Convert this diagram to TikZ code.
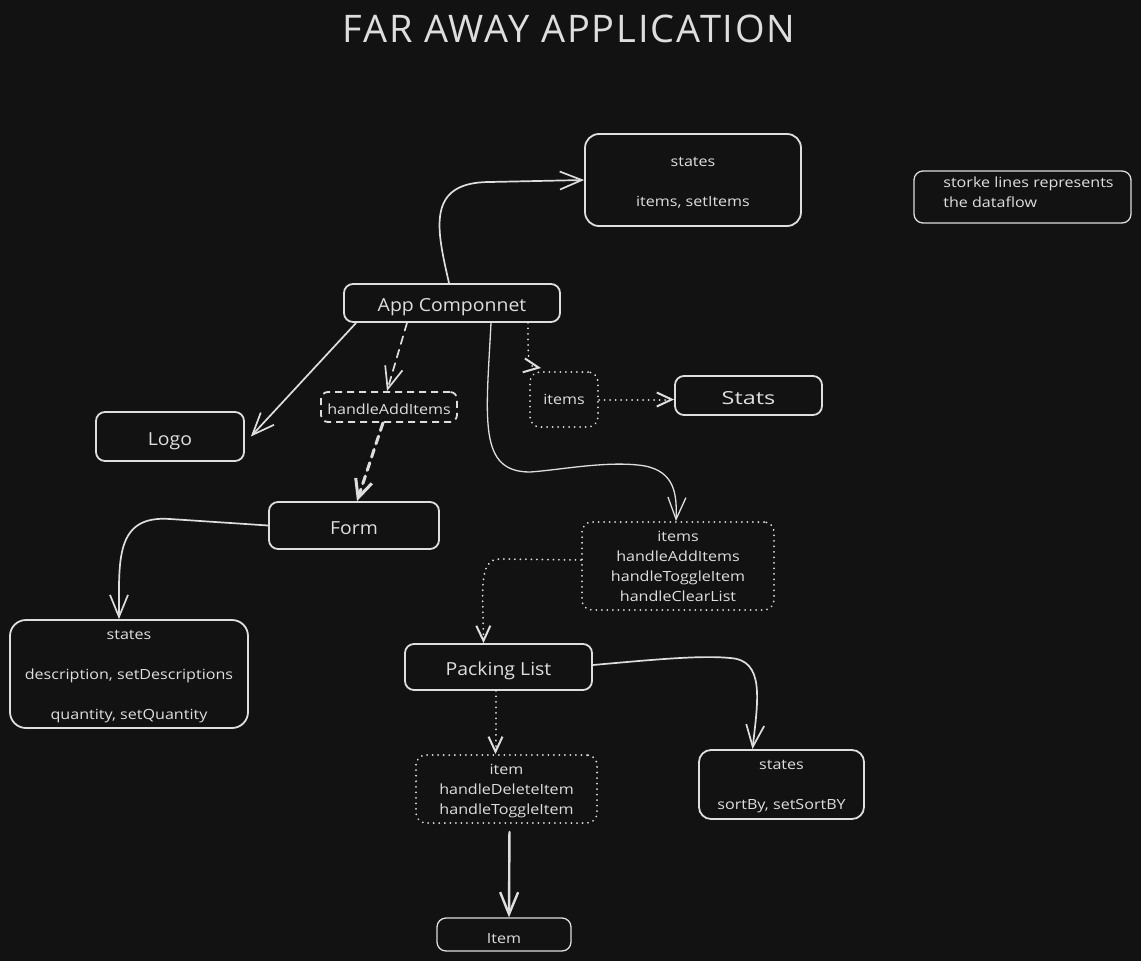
\documentclass[tikz,border=0pt]{standalone}
\usepackage{fontspec}
\setmainfont{Open Sans}
\usetikzlibrary{arrows.meta}
\definecolor{bgc}{HTML}{121212}
\definecolor{ink}{HTML}{DEDEDE}
\newcommand{\tstrut}[1]{\rule{0pt}{#1pt}}
\tikzset{
  box/.style={draw=ink, line width=1.8pt, rounded corners=9pt, fill=bgc, text=ink, inner sep=0pt, align=center, font=\fontsize{14}{20}\selectfont\addfontfeatures{FakeStretch=1.15}},
  bigtxt/.style={font=\fontsize{18}{20}\selectfont\addfontfeatures{FakeStretch=1.08}, text height=17pt, text depth=0pt},
  dashbox/.style={box, dash pattern=on 7pt off 5pt, rounded corners=7pt},
  dotbox/.style={box, line cap=round, dash pattern=on 0.01pt off 5.5pt, line width=2pt, rounded corners=10pt},
  arr/.style={draw=ink, line width=1.7pt, line cap=round, -{Straight Barb[length=22pt,width=18pt]}},
  dotarr/.style={arr, dash pattern=on 0.01pt off 5.5pt, line width=2pt, -{Straight Barb[length=15pt,width=14pt]}},
  dasharr/.style={arr, dash pattern=on 8pt off 6pt},
}
\begin{document}
\begin{tikzpicture}[x=1pt,y=-1pt]
\fill[bgc] (0,0) rectangle (1141,961);
\useasboundingbox (0,0) rectangle (1141,961);

\node[text=ink, font=\fontsize{38}{40}\selectfont\addfontfeatures{LetterSpace=5}] (title) at (569,29) {FAR AWAY APPLICATION};

\node[box, minimum width=216, minimum height=92, rounded corners=14pt] (st1) at (693,180) {\tstrut{14.5}states\\[20pt]items, setItems};
\node[box, minimum width=217, minimum height=52, align=left, line width=1.3pt] (note) at (1022.5,197) {\hspace*{12pt}storke lines represents\\\hspace*{12pt}the dataflow\rule[-10.4pt]{0pt}{0pt}};
\node[box, bigtxt, minimum width=216, minimum height=38] (app) at (452,303) {App Componnet};
\node[box, bigtxt, minimum width=148, minimum height=49] (logo) at (170,436.5) {Logo};
\node[dashbox, minimum width=136, minimum height=30, text height=14.6pt, text depth=0pt] (hai) at (389,407) {handleAddItems};
\node[dotbox, minimum width=68, minimum height=55] (itm) at (564,399.5) {items};
\node[box, bigtxt, minimum width=147, minimum height=39, font=\fontsize{18}{20}\selectfont\addfontfeatures{FakeStretch=1.3}] (stats) at (748.5,395.5) {Stats};
\node[box, bigtxt, minimum width=170, minimum height=47] (form) at (354,525.5) {Form};
\node[dotbox, minimum width=192, minimum height=88] (bigitems) at (678,566) {\tstrut{12}items\\handleAddItems\\handleToggleItem\\handleClearList};
\node[box, minimum width=238, minimum height=108, rounded corners=16pt] (sl) at (129,674) {\tstrut{15}states\\[20pt]description, setDescriptions\\[20pt]quantity, setQuantity};
\node[box, bigtxt, minimum width=187, minimum height=46] (pl) at (498.5,667) {Packing List};
\node[dotbox, minimum width=181, minimum height=68] (itemd) at (506.5,789) {\tstrut{14}item\\handleDeleteItem\\handleToggleItem};
\node[box, minimum width=165, minimum height=69, rounded corners=12pt] (sr) at (781.5,784.5) {\tstrut{14}states\\[20pt]sortBy, setSortBY};
\node[box, minimum width=134, minimum height=33, line width=1.3pt, text height=18pt, text depth=0pt] (itemb) at (504,934.5) {Item};

% connectors
\draw[arr] ([xshift=-3]app.north) .. controls (437,230) and (425,182) .. (490,182) -- (st1.west);
\draw[arr] ([xshift=13]app.south west) -- ([xshift=6]logo.east);
\draw[dasharr] ([xshift=-45]app.south) -- ([xshift=-2]hai.north);
\draw[dasharr, line width=3pt, -{Straight Barb[length=18pt,width=17pt]}] ([xshift=-6]hai.south) -- ([xshift=3]form.north);
\draw[dotarr] ([xshift=76]app.south) .. controls (528,366) .. ([xshift=12,yshift=3]itm.north west);
\draw[dotarr] (itm.east) -- (stats.west |- itm.east);
\draw[arr, line width=1.3pt] ([xshift=39]app.south) .. controls (486,420) and (478,472) .. (530,472) .. controls (560,470) and (610,460) .. (645,466) .. controls (675,472) and (677,495) .. ([xshift=-2]bigitems.north);
\draw[arr] (form.west) -- (170,519) .. controls (115,515) and (119,560) .. ([xshift=-10]sl.north);
\draw[dotarr] ([yshift=6]bigitems.west) -- (500,559) .. controls (478,559) and (483,590) .. ([xshift=-15]pl.north);
\draw[arr] ([yshift=2]pl.east) .. controls (650,660) and (700,655) .. (730,658) .. controls (765,660) and (758,700) .. ([xshift=-29]sr.north);
\draw[dotarr] ([xshift=-3]pl.south) -- ([xshift=-11]itemd.north);
\draw[arr, line width=2.4pt, shorten <=8pt] ([xshift=3]itemd.south) -- ([xshift=5]itemb.north);
\end{tikzpicture}
\end{document}
